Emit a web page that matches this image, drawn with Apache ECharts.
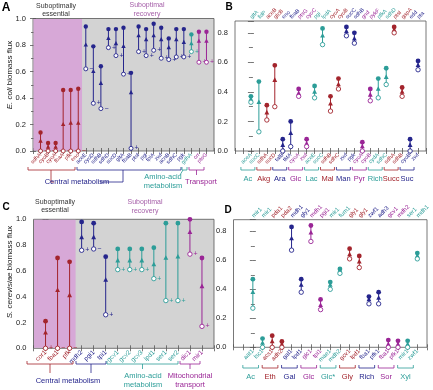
<!DOCTYPE html>
<html>
<head>
<meta charset="utf-8">
<script src="https://cdn.jsdelivr.net/npm/echarts@6/dist/echarts.min.js"></script>
<style>
  html, body { margin: 0; padding: 0; background: #fff; }
  #chart { width: 433px; height: 390px; }
</style>
</head>
<body>
<div id="chart"></div>
<script>
const FONT = '"Liberation Sans", Arial, sans-serif';
const red = '#a3242c', blue = '#25258c', teal = '#2c9d98', purple = '#9a2596';
const groupColors = [red, blue, teal, purple];

// A: E. coli
const aGenes = ['sdhA','cyoB','cyoA','fbaA','pfk','eno','aceE','cyoD','sdhB','sdhD','sucD','gltA','fbaB','ptsI','pgi','tpiA','zwf','acnB','sdhC','pgk','gdhA','crr','ptsG'];
const aGroup = [0,0,0,0,0,0,1,1,1,1,1,1,1,1,1,1,1,1,1,1,2,3,3];
const aTop = [0.14,0.06,0.06,0.46,0.46,0.47,0.94,0.79,0.64,0.92,0.92,0.93,0.59,0.94,0.92,0.96,0.93,0.85,0.92,0.92,0.88,0.90,0.90];
const aMid = [0.075,0.03,0.03,0.20,0.21,0.21,0.80,0.60,0.51,0.85,0.81,0.79,0.44,0.87,0.84,0.87,0.84,0.78,0.84,0.82,0.81,0.83,0.83];
const aLow = [0,0,0,0,0,0,0.62,0.36,0.32,0.78,0.72,0.58,0.02,0.75,0.72,0.76,0.70,0.69,0.71,0.71,0.75,0.67,0.67];
const aSign = ['−','−','−','−','−','−','−','+','−','+','+','+','+','+','+','+','+','+','+','+','+','+','+'];
const aShade = [0, 6.5];

// B: E. coli, per condition
const bGenes = ['aceA','sucC','sdhA','sucD','talB','tktA','cyoA','zwf','aceE','sucC','sdhB','sdhC','zwf','pgk','cyoA','cyoB','cydA','sdhC','sdhA','sdhB','cyoB','zwf'];
const bTopGenes = ['gltA','lldP','aceB','glcB','eno','fbaB','ptsG','cyoC','pgi','lpdA','cyoA','cyoB','sucC','sdhB','gnd','pykF','pfkA','sdhD','ptsI','gapA','edd','pta'];
const bGroup = [2,2,0,0,1,1,3,3,2,2,0,0,1,1,3,3,2,2,0,0,1,1];
const bTop = [0.37,0.47,0.31,0.58,0.08,0.20,0.42,0.08,0.44,0.83,0.37,0.49,0.84,0.80,0.06,0.42,0.49,0.56,0.84,0.43,0.08,0.61];
const bMid = [0.35,0.33,0.26,0.48,0.04,0.12,0.39,0.05,0.40,0.78,0.32,0.45,0.81,0.76,0.03,0.38,0.42,0.50,0.82,0.40,0.04,0.58];
const bLow = [0.33,0.13,0.21,0.30,0.00,0.03,0.37,0.03,0.36,0.72,0.27,0.42,0.78,0.73,0.00,0.34,0.36,0.45,0.80,0.37,0.00,0.55];
const bConditions = ['Ac','Akg','Ara','Glc','Lac','Mal','Man','Pyr','Rich','Succ','Suc'];

// C: S. cerevisiae
const cGenes = ['cor1','fba1','pfk','mdh2','pgi1','tpi1','gcv1','gcv2','gcv3','lpd1','ser1','ser2','dic1','mir1'];
const cGroup = [0,0,0,1,1,1,2,2,2,2,2,2,3,3];
const cTop = [0.21,0.70,0.67,0.98,0.97,0.71,0.77,0.77,0.77,0.78,0.97,0.97,1.0,0.70];
const cMid = [0.12,0.45,0.41,0.86,0.86,0.53,0.68,0.68,0.68,0.65,0.70,0.71,0.90,0.48];
const cLow = [0,0,0,0.76,0.77,0.26,0.61,0.61,0.61,0.54,0.37,0.37,0.73,0.17];
const cSign = ['+','−','−','+','−','+','+','+','+','+','+','+','+','+'];
const cShade = [-1, 2.5];

// D: S. cerevisiae, per condition
const dGenes = ['aat1','lsc1','acs1','adh2','gal1','lpd1','glc1','tpi1','mae1','mdh2','gcv1','lpd1','fba1','pfk1','fba1','pfk1','mir1','zwf1'];
const dTopGenes = ['mir1','mir1','pda1','pda2','mdh1','gly1','mdh1','pgi1','mir1','fum1','gly1','gly1','zwf1','adh3','gcv1','mdh2','ser1','mdh1'];
const dGroup = [2,2,0,0,1,1,3,3,2,2,0,0,1,1,3,3,2,2];
const dTop = [0.47,0.06,0.08,0.04,0.83,0.47,0.84,0.33,0.45,0.54,0.68,0.63,0.35,0.38,0.05,0.045,0.045,0.65];
const dMid = [0.38,0.03,0.04,0.02,0.75,0.43,0.79,0.29,0.43,0.53,0.64,0.59,0.33,0.34,0.02,0.02,0.02,0.63];
const dLow = [0.27,0.0,0.0,0.0,0.67,0.38,0.73,0.26,0.40,0.51,0.61,0.55,0.30,0.30,0.0,0.0,0.0,0.61];
const dConditions = ['Ac','Eth','Gal','Glc','Glc*','Gly','Rich','Sor','Xyl'];

const panels = [
  { genes: aGenes, group: aGroup, top: aTop, mid: aMid, low: aLow, sign: aSign, shade: aShade,
    x0: 1, xMin: 0, xMax: 24, yMax: 1.0, r: 2.2, lab: 5.5,
    grid: { left: 33, top: 18.5, width: 181, height: 132.5 }, bg: '#d3d3d3' },
  { genes: bGenes, topGenes: bTopGenes, group: bGroup, top: bTop, mid: bMid, low: bLow,
    x0: 0, xMin: -2, xMax: 22, yMax: 0.88, r: 2.4, lab: 5.5,
    grid: { left: 235, top: 21, width: 191, height: 130 }, bg: 'transparent' },
  { genes: cGenes, group: cGroup, top: cTop, mid: cMid, low: cLow, sign: cSign, shade: cShade,
    x0: 0, xMin: -1, xMax: 14, yMax: 1.0, r: 2.4, lab: 6.5,
    grid: { left: 33.5, top: 219.3, width: 180.5, height: 129 }, bg: '#d3d3d3' },
  { genes: dGenes, topGenes: dTopGenes, group: dGroup, top: dTop, mid: dMid, low: dLow,
    x0: 0, xMin: -2, xMax: 18, yMax: 0.88, r: 2.4, lab: 6,
    grid: { left: 233.5, top: 219.7, width: 193.5, height: 127.6 }, bg: 'transparent' }
];

function stickItem(p) {
  return function (params, api) {
    const i = params.dataIndex;
    const x = api.value(0);
    const t = api.coord([x, api.value(1)]);
    const m = api.coord([x, api.value(2)]);
    const l = api.coord([x, api.value(3)]);
    const c = groupColors[api.value(4)];
    const r = p.r;
    const kids = [
      { type: 'line', shape: { x1: l[0], y1: l[1], x2: t[0], y2: t[1] }, style: { stroke: c, lineWidth: 1 } },
      { type: 'polygon', shape: { points: [[m[0], m[1] - r - 0.4], [m[0] - r, m[1] + r - 0.6], [m[0] + r, m[1] + r - 0.6]] }, style: { fill: c } },
      { type: 'circle', shape: { cx: t[0], cy: t[1], r: r }, style: { fill: c } },
      { type: 'circle', shape: { cx: l[0], cy: l[1], r: r - 0.2 }, style: { fill: '#fff', stroke: c, lineWidth: 0.9 } }
    ];
    if (p.sign) {
      kids.push({ type: 'text', style: { text: p.sign[i], x: l[0] + 3.5, y: l[1], fill: c,
        font: '7px ' + FONT, verticalAlign: 'middle' } });
    }
    return { type: 'group', children: kids };
  };
}

function shadeItem(yMax) {
  return function (params, api) {
    const a = api.coord([api.value(0), yMax]);
    const b = api.coord([api.value(1), 0]);
    return { type: 'rect', shape: { x: a[0] + 0.5, y: a[1] + 0.5, width: b[0] - a[0] - 0.5, height: b[1] - a[1] - 1 },
      style: { fill: '#d7a8d7' } };
  };
}

const grids = [], xAxes = [], yAxes = [], series = [];
const tick = { show: true, inside: true, length: 3, lineStyle: { color: '#555', width: 0.8 } };

panels.forEach(function (p, k) {
  grids.push(Object.assign({ show: true, backgroundColor: p.bg, borderColor: '#555', borderWidth: 0.8, containLabel: false }, p.grid));
  const nameOf = (names) => (v) => { const n = names[Number(v) - p.x0]; return n === undefined ? '' : n; };
  const colOf = (v) => groupColors[p.group[Number(v) - p.x0]] || '#333';
  xAxes.push({ gridIndex: k, type: 'value', min: p.xMin, max: p.xMax, interval: 1, position: 'bottom',
    axisLine: { show: false }, axisTick: tick, splitLine: { show: false },
    axisLabel: { rotate: 45, fontSize: p.lab, fontFamily: FONT, margin: 3, formatter: nameOf(p.genes), color: colOf } });
  xAxes.push({ gridIndex: k, type: 'value', min: p.xMin, max: p.xMax, interval: 1, position: 'top',
    axisLine: { show: false }, axisTick: tick, splitLine: { show: false },
    axisLabel: p.topGenes ? { rotate: 45, fontSize: p.lab, fontFamily: FONT, margin: 3, formatter: nameOf(p.topGenes), color: colOf } : { show: false } });
  yAxes.push({ gridIndex: k, type: 'value', min: 0, max: p.yMax, interval: 0.2, position: 'left',
    axisLine: { show: false }, axisTick: tick, splitLine: { show: false },
    minorTick: { show: true, splitNumber: 2, length: 2, lineStyle: { color: '#555', width: 0.8 } },
    axisLabel: { fontSize: 7.5, fontFamily: FONT, color: '#222', margin: 7, showMaxLabel: p.yMax === 1,
      formatter: (v) => v.toFixed(1) } });
  yAxes.push({ gridIndex: k, type: 'value', min: 0, max: p.yMax, interval: 0.2, position: 'right',
    axisLine: { show: false }, axisTick: tick, splitLine: { show: false },
    minorTick: { show: true, splitNumber: 2, length: 2, lineStyle: { color: '#555', width: 0.8 } },
    axisLabel: { show: false } });
  if (p.shade) {
    series.push({ type: 'custom', xAxisIndex: 2 * k, yAxisIndex: 2 * k, z: 1, silent: true,
      renderItem: shadeItem(p.yMax), data: [p.shade], encode: { x: [0, 1] } });
  }
  series.push({ type: 'custom', xAxisIndex: 2 * k, yAxisIndex: 2 * k, z: 3, silent: true,
    renderItem: stickItem(p), encode: { x: 0, y: [1, 2, 3] },
    data: p.genes.map((g, i) => [i + p.x0, p.top[i], p.mid[i], p.low[i], p.group[i]]) });
});

const chart = echarts.init(document.getElementById('chart'), null, { renderer: 'canvas' });
chart.setOption({ animation: false, grid: grids, xAxis: xAxes, yAxis: yAxes, series: series });

// annotations
function txt(x, y, text, color, size, extra) {
  return Object.assign({ type: 'text', x: x, y: y, silent: true, z: 10,
    style: Object.assign({ text: text, fill: color, font: size + 'px ' + FONT, align: 'center', verticalAlign: 'middle' }, extra || {}) });
}
function bracket(x1, x2, y, color) {
  return { type: 'polyline', silent: true, z: 10, shape: { points: [[x1, y - 3], [x1, y], [x2, y], [x2, y - 3]] },
    style: { stroke: color, lineWidth: 0.8, fill: 'none' } };
}
function path(points, color) {
  return { type: 'polyline', silent: true, z: 10, shape: { points: points }, style: { stroke: color, lineWidth: 0.8, fill: 'none' } };
}

const g = [];
// panel letters
g.push(txt(6, 8, 'A', '#000', 10, { fontWeight: 'bold', font: 'bold 10px ' + FONT }));
g.push(txt(229, 7, 'B', '#000', 10, { font: 'bold 10px ' + FONT }));
g.push(txt(6, 207, 'C', '#000', 10, { font: 'bold 10px ' + FONT }));
g.push(txt(228, 210, 'D', '#000', 10, { font: 'bold 10px ' + FONT }));
// headers
g.push(txt(56, 6, 'Suboptimally', '#333', 7));
g.push(txt(56, 13.8, 'essential', '#333', 7));
g.push(txt(147, 5.5, 'Suboptimal', '#a55ea8', 7));
g.push(txt(147, 13.8, 'recovery', '#a55ea8', 7));
g.push(txt(55, 202.5, 'Suboptimally', '#333', 7));
g.push(txt(55, 210.5, 'essential', '#333', 7));
g.push(txt(145, 202.5, 'Suboptimal', '#a55ea8', 7));
g.push(txt(145, 211, 'recovery', '#a55ea8', 7));
// y titles
const richI = { i: { fontStyle: 'italic', fontSize: 8, fontFamily: FONT, fill: '#222' }, n: { fontSize: 8, fontFamily: FONT, fill: '#222' } };
g.push({ type: 'text', x: 10, y: 75, rotation: Math.PI / 2, silent: true,
  style: { text: '{i|E. coli}{n| biomass flux}', rich: richI, align: 'center', verticalAlign: 'middle' } });
g.push({ type: 'text', x: 10, y: 272, rotation: Math.PI / 2, silent: true,
  style: { text: '{i|S. cerevisiae}{n| biomass flux}', rich: richI, align: 'center', verticalAlign: 'middle' } });

// panel A group brackets
g.push(bracket(28, 75, 170, red));
g.push(path([[51, 170], [51, 182], [54, 182]], red));
g.push(bracket(77, 181, 170, blue));
g.push(path([[123, 170], [123, 182], [100, 182]], blue));
g.push(txt(77, 182, 'Central metabolism', blue, 7.5));
g.push(bracket(182, 187, 170, teal));
g.push(path([[183, 170], [180, 175]], teal));
g.push(txt(163, 177, 'Amino-acid', teal, 7.5));
g.push(txt(163, 185.5, 'metabolism', teal, 7.5));
g.push(bracket(189, 204, 170, purple));
g.push(path([[196.5, 170], [196.5, 175]], purple));
g.push(txt(201, 182, 'Transport', purple, 7.5));

// panel C group brackets
g.push(bracket(27, 73, 364, red));
g.push(path([[50, 364], [50, 373]], red));
g.push(bracket(76, 106, 364, blue));
g.push(path([[91, 364], [91, 373]], blue));
g.push(txt(68, 380.5, 'Central metabolism', blue, 7.5));
g.push(bracket(107, 178, 364, teal));
g.push(path([[142.5, 364], [142.5, 369]], teal));
g.push(txt(143, 375.5, 'Amino-acid', teal, 7.5));
g.push(txt(143, 384.5, 'metabolism', teal, 7.5));
g.push(bracket(180, 200, 364, purple));
g.push(path([[190, 364], [190, 369]], purple));
g.push(txt(190, 375.5, 'Mitochondrial', purple, 7.5));
g.push(txt(190, 384.5, 'transport', purple, 7.5));

// panels B and D condition brackets, placed from the axis scale
[[1, bConditions, bGroup, 170], [3, dConditions, dGroup, 368]].forEach(function (d) {
  const k = d[0], names = d[1], grp = d[2], y = d[3];
  names.forEach(function (name, j) {
    const x1 = chart.convertToPixel({ xAxisIndex: 2 * k }, 2 * j) - 10;
    const x2 = chart.convertToPixel({ xAxisIndex: 2 * k }, 2 * j + 1) - 4;
    const c = groupColors[grp[2 * j]];
    g.push(bracket(x1, x2, y, c));
    g.push(txt((x1 + x2) / 2, y + 8.5, name, c, 7.5));
  });
});

chart.setOption({ graphic: g });
</script>
</body>
</html>
